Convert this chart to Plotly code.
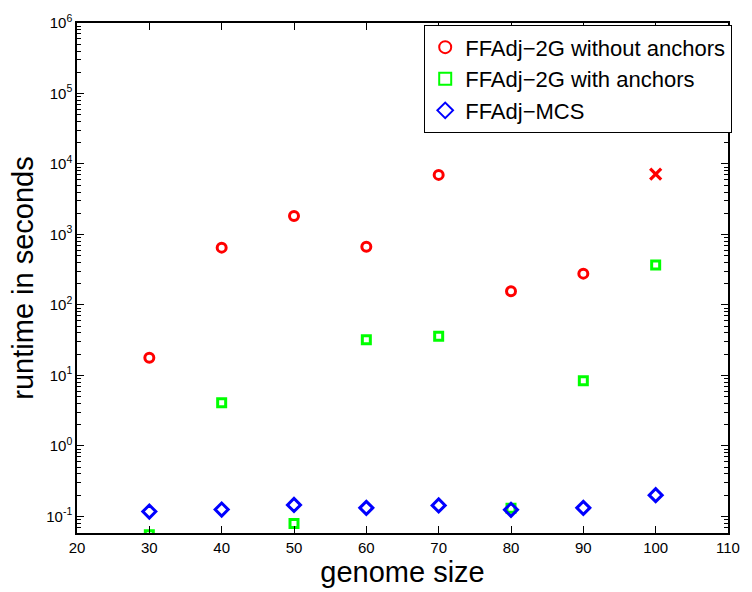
import plotly.graph_objects as go

# genome sizes and runtimes (seconds)
sizes = [30, 40, 50, 60, 70, 80, 90, 100]
sizes_no_anchor = [30, 40, 50, 60, 70, 80, 90]
rt_no_anchor = [17.8, 650, 1830, 670, 7000, 156, 278]
timeout_size = [100]
timeout_rt = [7200]
rt_with_anchor = [0.055, 4.1, 0.079, 32, 36, 0.13, 8.4, 370]
rt_mcs = [0.117, 0.125, 0.145, 0.132, 0.143, 0.124, 0.132, 0.2]

x_ticks = [20, 30, 40, 50, 60, 70, 80, 90, 100, 110]
y_exps = [-1, 0, 1, 2, 3, 4, 5, 6]

fig = go.Figure()
fig.add_trace(go.Scatter(
    x=sizes_no_anchor, y=rt_no_anchor, mode="markers",
    name="FFAdj\u22122G without anchors",
    marker=dict(symbol="circle-open", size=9, color="#ff0000",
                line=dict(width=3, color="#ff0000"))))
fig.add_trace(go.Scatter(
    x=sizes, y=rt_with_anchor, mode="markers",
    name="FFAdj\u22122G with anchors",
    marker=dict(symbol="square-open", size=8, color="#00ff00",
                line=dict(width=3, color="#00ff00"))))
fig.add_trace(go.Scatter(
    x=sizes, y=rt_mcs, mode="markers",
    name="FFAdj\u2212MCS",
    marker=dict(symbol="diamond-open", size=10, color="#0000ff",
                line=dict(width=3, color="#0000ff"))))
fig.add_trace(go.Scatter(
    x=timeout_size, y=timeout_rt, mode="markers", showlegend=False,
    marker=dict(symbol="x-thin-open", size=11, color="#ff0000",
                line=dict(width=3.2, color="#ff0000"))))

minor_vals = [m * 10 ** e for e in range(-2, 6) for m in range(2, 10)]

font_family = "Liberation Sans, Arial, sans-serif"
fig.update_layout(
    width=752, height=592,
    margin=dict(l=77, r=12, t=15, b=55),
    paper_bgcolor="white", plot_bgcolor="white",
    font=dict(family=font_family, color="black"),
    showlegend=True,
    legend=dict(x=1.006, y=0.996, xanchor="right", yanchor="top",
                bgcolor="white", bordercolor="black", borderwidth=1.3,
                font=dict(size=22, family=font_family),
                itemsizing="constant", tracegroupgap=0),
    xaxis=dict(range=[20, 110], tickvals=x_ticks,
               ticktext=[str(v) for v in x_ticks],
               ticks="inside", ticklen=7, tickwidth=1, tickcolor="black",
               showline=True, linecolor="black", linewidth=1.5,
               mirror="ticks", showgrid=False, zeroline=False,
               tickfont=dict(size=15),
               title=dict(text="genome size", font=dict(size=29), standoff=4)),
    yaxis=dict(type="log", range=[-1.236, 6],
               tickvals=[10 ** e for e in y_exps],
               ticktext=[f"10<sup>{e}</sup>" for e in y_exps],
               ticks="inside", ticklen=7, tickwidth=1, tickcolor="black",
               minor=dict(ticks="inside", ticklen=4, tickcolor="black",
                          tickvals=minor_vals, showgrid=False),
               showline=True, linecolor="black", linewidth=1.5,
               mirror="ticks", showgrid=False, zeroline=False,
               tickfont=dict(size=15),
               title=dict(text="runtime in seconds", font=dict(size=29), standoff=4)),
)

fig.write_html("out.html")
